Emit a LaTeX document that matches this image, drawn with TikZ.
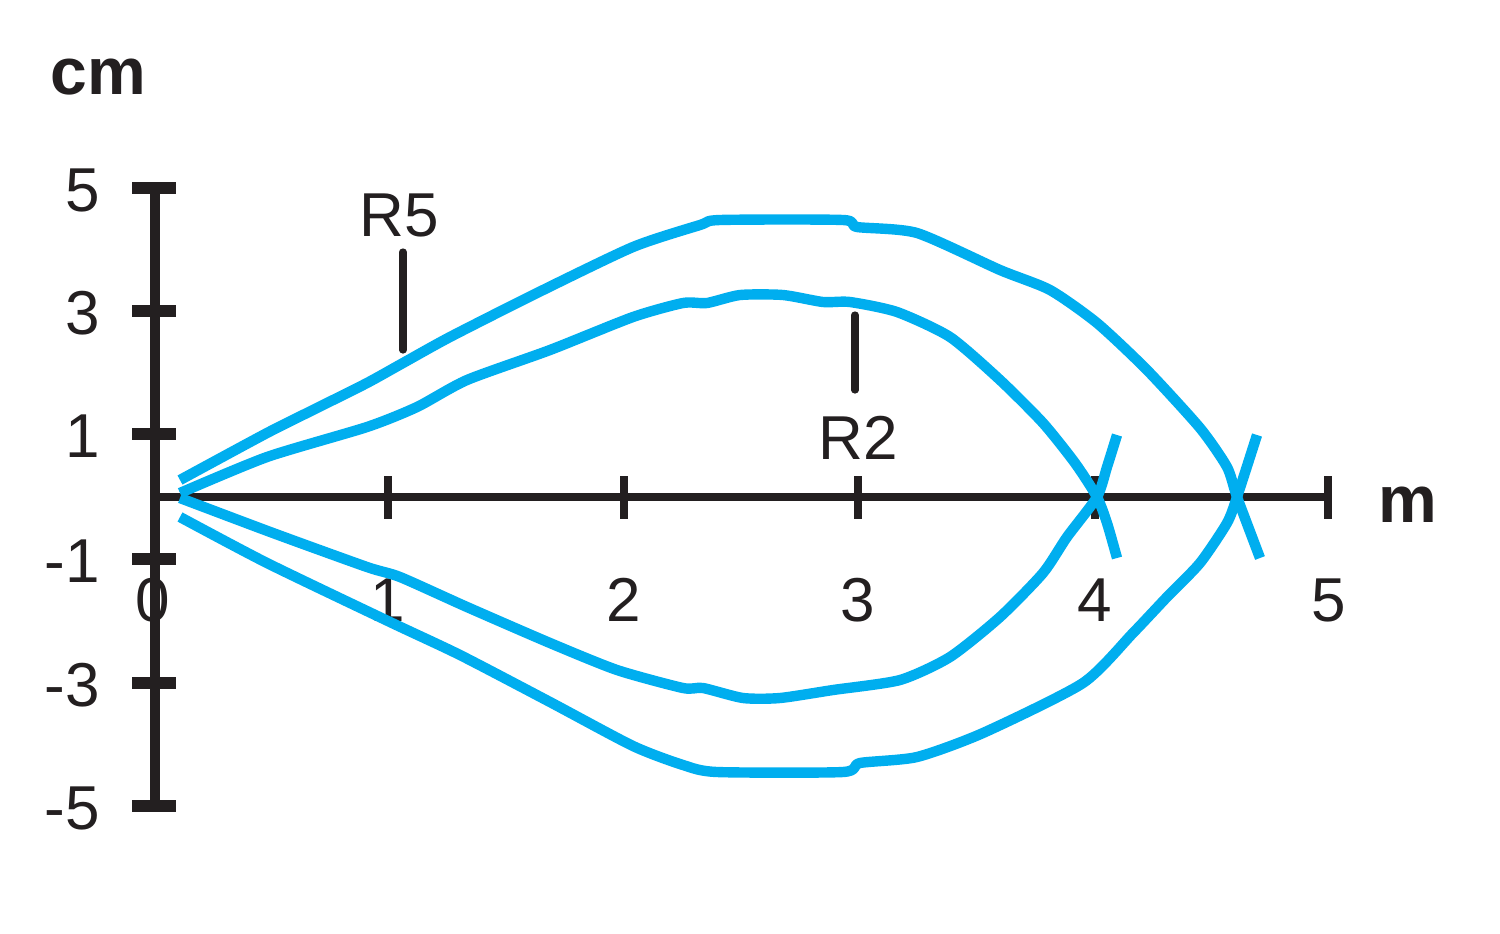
\documentclass[tikz,border=0pt]{standalone}
\usepackage{fontspec}
\setmainfont{Liberation Sans}
\definecolor{cyanline}{HTML}{00AEEF}
\definecolor{ink}{HTML}{231F20}
\begin{document}
\begin{tikzpicture}[x=0.5pt,y=-0.5pt,
  curve/.style={draw=cyanline, line width=5.2pt, line join=round},
  yaxis/.style={draw=ink, line width=5.2pt},
  ytick/.style={draw=ink, line width=5.8pt},
  xaxis/.style={draw=ink, line width=3.8pt},
  xtick/.style={draw=ink, line width=3.8pt},
  pointer/.style={draw=ink, line width=3.6pt, line cap=round},
  lbl/.style={text=ink, inner sep=0pt, font=\fontsize{31}{31}\selectfont},
  unitlbl/.style={text=ink, inner sep=0pt, font=\bfseries\fontsize{33}{33}\selectfont}]

\useasboundingbox (0,0) rectangle (1500,933);
\fill[white] (0,0) rectangle (1500,933);

% vertical axis
\coordinate (ytop) at (155,188);
\coordinate (ybot) at (155,806);
\draw[yaxis] (ytop) -- (ybot);
\foreach \yy in {188,311,434,559,683,806}
  \draw[ytick] (132,\yy) -- (176,\yy);

% horizontal axis
\coordinate (xleft) at (155,497);
\coordinate (xright) at (1330,497);
\draw[xaxis] (xleft) -- (xright);
\foreach \xx in {388,624,858,1095,1328}
  \draw[xtick] (\xx,476) -- (\xx,519);

% y labels
\node[lbl, anchor=east] (y5)  at (100,190) {5};
\node[lbl, anchor=east] (y3)  at (100,313) {3};
\node[lbl, anchor=east] (y1)  at (100,436) {1};
\node[lbl, anchor=east] (ym1) at (100,561) {-1};
\node[lbl, anchor=east] (ym3) at (100,685) {-3};
\node[lbl, anchor=east] (ym5) at (100,808) {-5};

% x labels
\node[lbl] (x0) at (153,600) {0};
\node[lbl] (x1) at (388,600) {1};
\node[lbl] (x2) at (624,600) {2};
\node[lbl] (x3) at (858,600) {3};
\node[lbl] (x4) at (1095,600) {4};
\node[lbl] (x5) at (1329,600) {5};

% units
\node[unitlbl] (cm) at (98,77) {cm};
\node[unitlbl] (m) at (1408,505) {m};

% blue curves
\draw[curve] plot[smooth, tension=0.4] coordinates {
  (180,480) (267,433) (317,408) (367,383) (403,363) (450,337) (537,293)
  (633,247) (700,225) (720,220) (843,220) (857,227) (917,233) (1000,270)
  (1050,290) (1097,323) (1147,370) (1200,428) (1227,467) (1237,497) (1260,558)};
\draw[curve] plot[smooth, tension=0.4] coordinates {
  (180,493) (267,457) (367,427) (417,407) (467,380) (550,350) (633,317)
  (683,303) (707,303) (740,295) (783,295) (823,302) (850,302) (897,312)
  (950,337) (1000,380) (1043,423) (1075,463) (1097,497) (1107,523) (1117,558)};
\draw[curve] plot[smooth, tension=0.4] coordinates {
  (180,498) (273,533) (367,567) (400,577) (467,607) (550,643) (617,670)
  (683,688) (703,688) (743,698) (780,698) (833,690) (900,680) (950,657)
  (1000,617) (1043,573) (1067,537) (1097,497) (1107,467) (1117,435)};
\draw[curve] plot[smooth, tension=0.4] coordinates {
  (180,517) (267,563) (390,622) (460,655) (550,702) (633,746) (683,765)
  (717,772) (843,772) (860,763) (917,757) (983,733) (1083,683) (1133,633)
  (1167,597) (1200,563) (1227,523) (1237,497) (1257,435)};

% labels with pointers
\node[lbl] (r5) at (399,215) {R5};
\coordinate (r5a) at (403,252);
\coordinate (r5b) at (403,350);
\draw[pointer] (r5a) -- (r5b);

\node[lbl] (r2) at (858,438) {R2};
\coordinate (r2a) at (855,315);
\coordinate (r2b) at (855,390);
\draw[pointer] (r2a) -- (r2b);
\end{tikzpicture}
\end{document}
